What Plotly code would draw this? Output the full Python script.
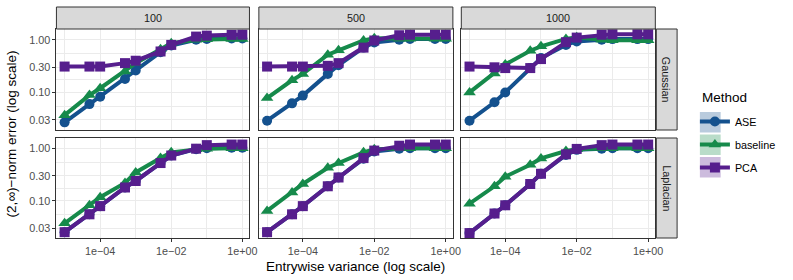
import plotly.graph_objects as go

# ---------------- data ----------------
x_vals = [1e-5, 5e-5, 1e-4, 5e-4, 1e-3, 5e-3, 1e-2, 5e-2, 1e-1, 5e-1, 1.0]
sizes = ["100", "500", "1000"]
noises = ["Gaussian", "Laplacian"]
methods = ["ASE", "baseline", "PCA"]

x_tick_vals = [1e-4, 1e-2, 1.0]
x_tick_text = ["1e\u221204", "1e\u221202", "1e+00"]
y_tick_vals = [0.03, 0.1, 0.3, 1.0]
y_tick_text = ["0.03", "0.10", "0.30", "1.00"]

ase_gaussian_100 = [0.027, 0.060, 0.083, 0.18, 0.26, 0.58, 0.78, 1.0, 1.04, 1.06, 1.06]
baseline_gaussian_100 = [0.037, 0.089, 0.12, 0.25, 0.36, 0.66, 0.86, 1.0, 1.02, 1.04, 1.04]
pca_gaussian_100 = [0.31, 0.31, 0.31, 0.36, 0.40, 0.60, 0.80, 1.15, 1.20, 1.24, 1.25]

ase_gaussian_500 = [0.029, 0.062, 0.087, 0.225, 0.33, 0.71, 0.89, 1.0, 1.04, 1.04, 1.04]
baseline_gaussian_500 = [0.078, 0.17, 0.225, 0.52, 0.63, 0.97, 1.07, 1.05, 1.05, 1.05, 1.05]
pca_gaussian_500 = [0.31, 0.31, 0.31, 0.32, 0.36, 0.71, 0.97, 1.22, 1.25, 1.25, 1.25]

ase_gaussian_1000 = [0.029, 0.065, 0.10, 0.29, 0.45, 0.80, 0.93, 1.0, 1.03, 1.03, 1.03]
baseline_gaussian_1000 = [0.10, 0.23, 0.34, 0.62, 0.75, 1.04, 1.12, 1.0, 0.98, 0.98, 0.98]
pca_gaussian_1000 = [0.31, 0.30, 0.29, 0.29, 0.43, 0.90, 1.10, 1.25, 1.27, 1.27, 1.27]

ase_laplacian_100 = [0.025, 0.055, 0.079, 0.18, 0.24, 0.53, 0.74, 0.98, 1.02, 1.04, 1.04]
baseline_laplacian_100 = [0.037, 0.082, 0.117, 0.22, 0.35, 0.66, 0.85, 0.97, 1.0, 1.02, 1.02]
pca_laplacian_100 = [0.025, 0.055, 0.079, 0.18, 0.24, 0.53, 0.74, 1.0, 1.17, 1.2, 1.2]

ase_laplacian_500 = [0.025, 0.055, 0.079, 0.19, 0.28, 0.64, 0.88, 1.0, 1.02, 1.02, 1.02]
baseline_laplacian_500 = [0.064, 0.145, 0.21, 0.43, 0.53, 0.85, 0.98, 1.02, 1.02, 1.02, 1.02]
pca_laplacian_500 = [0.025, 0.055, 0.079, 0.19, 0.28, 0.66, 0.92, 1.14, 1.2, 1.2, 1.2]

ase_laplacian_1000 = [0.024, 0.057, 0.082, 0.21, 0.33, 0.76, 0.95, 1.0, 1.02, 1.02, 1.02]
baseline_laplacian_1000 = [0.088, 0.19, 0.29, 0.49, 0.65, 0.90, 0.98, 1.02, 1.02, 1.02, 1.02]
pca_laplacian_1000 = [0.024, 0.057, 0.082, 0.21, 0.33, 0.78, 0.99, 1.17, 1.2, 1.2, 1.2]

series = {
    ("Gaussian", "100"): [ase_gaussian_100, baseline_gaussian_100, pca_gaussian_100],
    ("Gaussian", "500"): [ase_gaussian_500, baseline_gaussian_500, pca_gaussian_500],
    ("Gaussian", "1000"): [ase_gaussian_1000, baseline_gaussian_1000, pca_gaussian_1000],
    ("Laplacian", "100"): [ase_laplacian_100, baseline_laplacian_100, pca_laplacian_100],
    ("Laplacian", "500"): [ase_laplacian_500, baseline_laplacian_500, pca_laplacian_500],
    ("Laplacian", "1000"): [ase_laplacian_1000, baseline_laplacian_1000, pca_laplacian_1000],
}

# ---------------- style ----------------
W, H = 793, 280
FONT = "Liberation Sans, Arial, Helvetica, sans-serif"
colors = {"ASE": "#14518E", "baseline": "#168A4B", "PCA": "#561E8D"}
tints = {"ASE": "#B9CBDD", "baseline": "#B9DCC9", "PCA": "#CCBBDD"}
symbols = {"ASE": "circle", "baseline": "triangle-up", "PCA": "square"}
msize = {"ASE": 10, "baseline": 11, "PCA": 10}


def px(x):
    return x / W


def py(y):
    return 1 - y / H


col_x = [(57, 252), (261.5, 457.5), (466, 662)]
row_y = [(29, 130), (138, 238)]

fig = go.Figure()
layout = dict(
    width=W, height=H,
    margin=dict(l=0, r=0, t=0, b=0),
    paper_bgcolor="white", plot_bgcolor="white",
    font=dict(family=FONT, color="#4D4D4D", size=10.8),
)

GRID = "#EBEBEB"
for r, noise in enumerate(noises):
    for c, size in enumerate(sizes):
        idx = r * 3 + c + 1
        xa = "xaxis" if idx == 1 else f"xaxis{idx}"
        ya = "yaxis" if idx == 1 else f"yaxis{idx}"
        xr = "x" if idx == 1 else f"x{idx}"
        yr = "y" if idx == 1 else f"y{idx}"
        bottom = r == 1
        left = c == 0
        layout[xa] = dict(
            type="log", range=[-5.23, 0.2],
            domain=[px(col_x[c][0]), px(col_x[c][1])], anchor=yr,
            tickmode="array", tickvals=x_tick_vals, ticktext=x_tick_text,
            showticklabels=bottom, ticks="outside" if bottom else "",
            ticklen=3, tickwidth=1, tickcolor="#333333",
            showgrid=True, gridcolor=GRID, gridwidth=1.1,
            minor=dict(tickmode="array", tickvals=[1e-5, 1e-3, 1e-1],
                       showgrid=True, gridcolor=GRID, gridwidth=0.6, ticks=""),
            showline=True, linecolor="#333333", linewidth=1, mirror=True,
            zeroline=False, tickfont=dict(size=10.8, color="#4D4D4D"),
        )
        layout[ya] = dict(
            type="log", range=[-1.714, 0.205],
            domain=[py(row_y[r][1]), py(row_y[r][0])], anchor=xr,
            tickmode="array", tickvals=y_tick_vals, ticktext=y_tick_text,
            showticklabels=left, ticks="outside" if left else "",
            ticklen=3, tickwidth=1, tickcolor="#333333",
            showgrid=True, gridcolor=GRID, gridwidth=1.1,
            minor=dict(tickmode="array", tickvals=[0.0548, 0.173, 0.548],
                       showgrid=True, gridcolor=GRID, gridwidth=0.6, ticks=""),
            showline=True, linecolor="#333333", linewidth=1, mirror=True,
            zeroline=False, tickfont=dict(size=10.8, color="#4D4D4D"),
        )
        for m, vals in zip(methods, series[(noise, size)]):
            fig.add_trace(go.Scatter(
                x=x_vals, y=vals, mode="lines+markers", name=m,
                legendgroup=m, showlegend=(idx == 1),
                line=dict(color=colors[m], width=4),
                marker=dict(symbol=symbols[m], size=msize[m], color=colors[m]),
                xaxis=xr, yaxis=yr, cliponaxis=False,
            ))

shapes = []
annotations = []
# top strips
for c, size in enumerate(sizes):
    shapes.append(dict(type="rect", xref="paper", yref="paper",
                       x0=px(col_x[c][0]), x1=px(col_x[c][1]), y0=py(29), y1=py(7),
                       fillcolor="#D9D9D9", line=dict(color="#333333", width=1), layer="above"))
    annotations.append(dict(text=size, xref="paper", yref="paper",
                            x=px((col_x[c][0] + col_x[c][1]) / 2), y=py(18),
                            xanchor="center", yanchor="middle",
                            showarrow=False, font=dict(size=10.8, color="#1A1A1A")))
# right strips
for r, noise in enumerate(noises):
    shapes.append(dict(type="rect", xref="paper", yref="paper",
                       x0=px(663), x1=px(684), y0=py(row_y[r][1]), y1=py(row_y[r][0]),
                       fillcolor="#D9D9D9", line=dict(color="#333333", width=1), layer="above"))
    annotations.append(dict(text=noise, xref="paper", yref="paper",
                            x=px(673.5), y=py((row_y[r][0] + row_y[r][1]) / 2),
                            xanchor="center", yanchor="middle",
                            textangle=90, showarrow=False,
                            font=dict(size=10.8, color="#1A1A1A")))
# legend key tints
for i, m in enumerate(methods):
    y0 = 112 + i * 22.5
    shapes.append(dict(type="rect", xref="paper", yref="paper",
                       x0=px(707), x1=px(728), y0=py(y0 + 20.5), y1=py(y0),
                       fillcolor=tints[m], line=dict(width=0), layer="above"))

# legend title
annotations.append(dict(text="Method", xref="paper", yref="paper",
                        x=px(707), y=py(97), xanchor="left", yanchor="middle",
                        showarrow=False, font=dict(size=13.5, color="black")))
# axis titles
annotations.append(dict(text="Entrywise variance (log scale)", xref="paper", yref="paper",
                        x=px(359.5), y=py(266), xanchor="center", yanchor="middle",
                        showarrow=False, font=dict(size=13.5, color="black")))
annotations.append(dict(text="(2,\u221e)\u2212norm error (log scale)", xref="paper", yref="paper",
                        x=px(12), y=py(133.5), xanchor="center", yanchor="middle",
                        textangle=-90, showarrow=False,
                        font=dict(size=13.5, color="black")))

layout["shapes"] = shapes
layout["annotations"] = annotations
layout["legend"] = dict(
    x=px(702), y=py(107), xanchor="left", yanchor="top",
    bgcolor="rgba(0,0,0,0)", borderwidth=0,
    font=dict(size=10.8, color="black"),
    tracegroupgap=4, itemclick=False,
)
fig.update_layout(**layout)
fig.write_html(
    "out.html",
    config={"displayModeBar": False},
    post_script="document.body.style.margin='0px';document.body.style.overflow='hidden';",
)
